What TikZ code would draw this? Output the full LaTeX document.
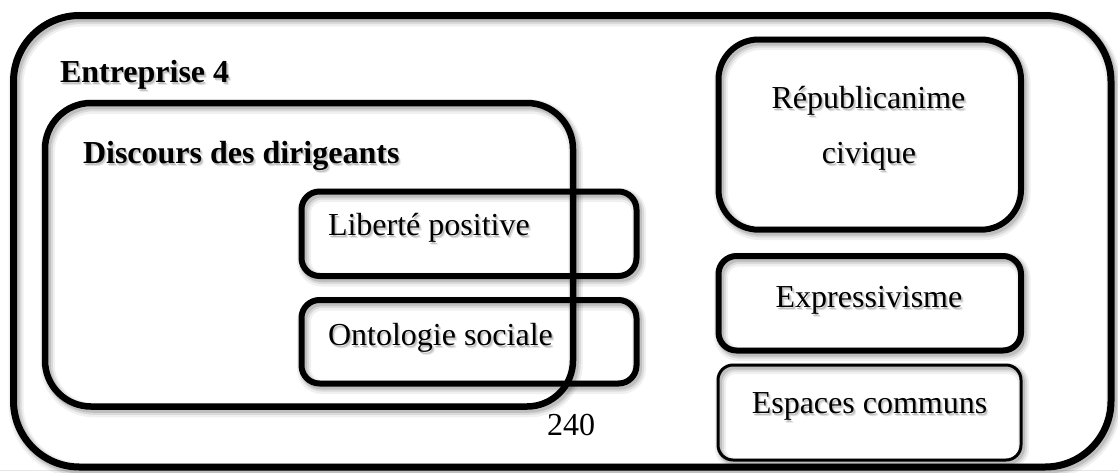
\documentclass[tikz,border=0pt]{standalone}
\usepackage{fontspec}
\setmainfont{Liberation Serif}
% text with a soft grey drop shadow behind it
\newcommand\shtxt[1]{\leavevmode
  \rlap{\kern2.4pt\raisebox{-3.4pt}{\textcolor{black!10}{#1}}}%
  \rlap{\kern1.4pt\raisebox{-2.2pt}{\textcolor{black!24}{#1}}}#1}
\begin{document}
\begin{tikzpicture}[x=1pt,y=-1pt,
  frame/.style 2 args={draw=black, line width=#1, rounded corners=#2,
    inner sep=0pt, outer sep=0pt, anchor=north west,
    preaction={draw=black, draw opacity=0.06, line width=#1+8pt,
      transform canvas={xshift=2.5pt,yshift=-3.5pt}},
    preaction={draw=black, draw opacity=0.09, line width=#1+4pt,
      transform canvas={xshift=2.5pt,yshift=-3pt}},
    preaction={draw=black, draw opacity=0.12, line width=#1+1pt,
      transform canvas={xshift=2pt,yshift=-2.5pt}}},
  label/.style={inner sep=0pt, outer sep=0pt,
    font=\fontsize{32}{38}\selectfont},
  title/.style={label, font=\fontsize{32}{38}\selectfont\bfseries},
]
\useasboundingbox (0,0) rectangle (1118,472);

% page rule along the bottom
\coordinate (ruleL) at (0,470.5);
\coordinate (ruleR) at (1118,470.5);
\draw[black!10, line width=1pt] (ruleL) -- (ruleR);

% outer frame: the company
\node[frame={7pt}{66pt}, minimum width=1097.5pt, minimum height=451.5pt]
  (entreprise) at (13.5,15.5) {};
\node[title, anchor=base west] (entT) at (60,82) {\shtxt{Entreprise 4}};

% managers' discourse
\node[frame={6.5pt}{46pt}, minimum width=528pt, minimum height=303.5pt]
  (discours) at (45,103) {};
\node[title, anchor=base west] (disT) at (83,163) {\shtxt{Discours des dirigeants}};

% concepts overlapping the discourse frame
\node[frame={6pt}{18pt}, minimum width=335pt, minimum height=84.5pt]
  (liberte) at (301.5,191.5) {};
\node[label, anchor=base west] (libT) at (328,235) {\shtxt{Liberté positive}};

\node[frame={6pt}{18pt}, minimum width=335pt, minimum height=83.5pt]
  (ontologie) at (301.5,300) {};
\node[label, anchor=base west] (ontT) at (328,345) {\shtxt{Ontologie sociale}};

% concepts on the right
\node[frame={6pt}{40pt}, minimum width=302.5pt, minimum height=190.2pt]
  (republ) at (718.5,39.5) {};
\node[label, anchor=base] (repT1) at (868.5,108) {\shtxt{Républicanime}};
\node[label, anchor=base] (repT2) at (869,163) {\shtxt{civique}};

\node[frame={6pt}{18pt}, minimum width=302.5pt, minimum height=94.5pt]
  (express) at (718.5,256) {};
\node[label, anchor=base] (expT) at (869,307) {\shtxt{Expressivisme}};

\node[frame={3pt}{15pt}, minimum width=303pt, minimum height=95pt]
  (espaces) at (718,365) {};
\node[label, anchor=base] (espT) at (869.5,413) {\shtxt{Espaces communs}};

% page number
\node[label, anchor=base west] (page) at (547,435) {240};
\end{tikzpicture}
\end{document}
